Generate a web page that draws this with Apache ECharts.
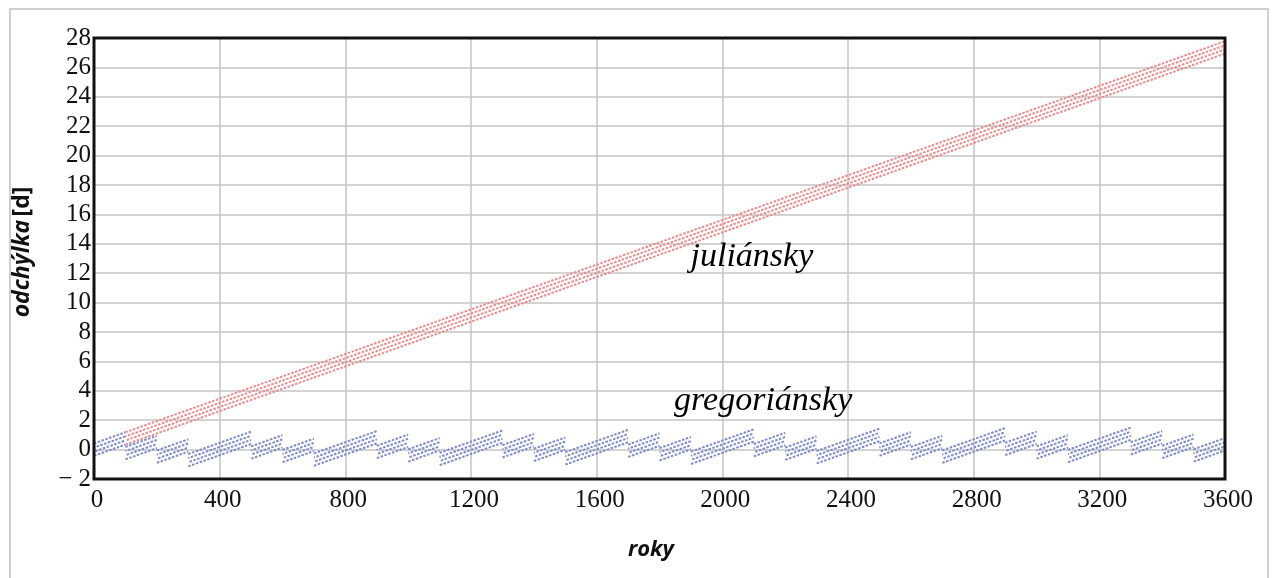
<!DOCTYPE html>
<html><head><meta charset="utf-8">
<script src="https://cdn.jsdelivr.net/npm/echarts@6/dist/echarts.min.js"></script>
<style>html,body{margin:0;padding:0;background:#fff}#c{width:1278px;height:578px}</style>
</head><body><div id="c"></div>
<script>
// ---- data ----
// Julian calendar drift (centre of the 4-year band), days
const julianTrend = [[100, 0.76], [3600, 27.36]];
// Gregorian drift: runs between century drops [startYear, endYear, startValue, endValue]
const gregSegments = [
  [0, 100, 0.00, 0.76], [100, 200, -0.24, 0.52], [200, 300, -0.48, 0.28],
  [300, 500, -0.72, 0.80], [500, 600, -0.20, 0.56], [600, 700, -0.44, 0.32],
  [700, 900, -0.68, 0.84], [900, 1000, -0.16, 0.60], [1000, 1100, -0.40, 0.36],
  [1100, 1300, -0.64, 0.88], [1300, 1400, -0.12, 0.64], [1400, 1500, -0.36, 0.40],
  [1500, 1700, -0.60, 0.92], [1700, 1800, -0.08, 0.68], [1800, 1900, -0.32, 0.44],
  [1900, 2100, -0.56, 0.96], [2100, 2200, -0.04, 0.72], [2200, 2300, -0.28, 0.48],
  [2300, 2500, -0.52, 1.00], [2500, 2600, 0.00, 0.76], [2600, 2700, -0.24, 0.52],
  [2700, 2900, -0.48, 1.04], [2900, 3000, 0.04, 0.80], [3000, 3100, -0.20, 0.56],
  [3100, 3300, -0.44, 1.08], [3300, 3400, 0.08, 0.84], [3400, 3500, -0.16, 0.60],
  [3500, 3600, -0.40, 0.36]
];
// offsets of the four years of the leap cycle around the band centre (days)
const cyclePhases = [0.42, 0.14, -0.14, -0.42];
const annotations = [['juliánsky', 2094, 13.1], ['gregoriánsky', 2130, 3.3]];
const xRange = [0, 3600, 400];
const yRange = [-2, 28, 2];
const axisTitles = { x: 'roky', y1: 'odchýlka', y2: '[d]' };

// ---- build ----
const gregBase = [];
gregSegments.forEach(s => { gregBase.push([s[0], s[2]], [s[1], s[3]], [s[1], '-']); });

const serif = '"Liberation Serif", "DejaVu Serif", serif';
const sans = '"Open Sans", sans-serif';
const RED = '#ef8a8a', BLUE = '#7c8ad0';
const series = [];
cyclePhases.forEach((off, i) => {
  series.push({
    type: 'line', showSymbol: false, silent: true, z: 2,
    data: julianTrend.map(p => [p[0], p[1] + off]),
    lineStyle: { color: RED, width: 2, type: [2.5, 1.5], dashOffset: i * 1.3 }
  });
});
cyclePhases.forEach((off, i) => {
  series.push({
    type: 'line', showSymbol: false, silent: true, z: 3, connectNulls: false,
    data: gregBase.map(p => [p[0], p[1] === '-' ? '-' : p[1] + off]),
    lineStyle: { color: BLUE, width: 2, type: [2.5, 1.5], dashOffset: i * 1.3 }
  });
});

const G = { left: 94, right: 53, top: 38, bottom: 99 };
const chart = echarts.init(document.getElementById('c'), null, { renderer: 'canvas' });
const graphics = [
  { type: 'rect', shape: { x: 10, y: 9, width: 1258, height: 600 }, style: { fill: null, stroke: '#cfcfcf', lineWidth: 2 }, z: -1 },
  { type: 'rect', shape: { x: G.left, y: G.top, width: 1278 - G.left - G.right, height: 578 - G.top - G.bottom },
    style: { fill: null, stroke: '#111', lineWidth: 3 }, z: 10 },
  { type: 'text', x: 651, y: 550, style: { text: axisTitles.x, fontFamily: sans, fontWeight: 'bold', fontStyle: 'italic', fontSize: 22, fill: '#111', align: 'center', verticalAlign: 'middle' } },
  { type: 'text', x: 22, y: 252, rotation: Math.PI / 2,
    style: { text: '{a|' + axisTitles.y1 + '} {b|' + axisTitles.y2 + '}', align: 'center', verticalAlign: 'middle',
      rich: { a: { fontFamily: sans, fontWeight: 'bold', fontStyle: 'italic', fontSize: 23, fill: '#111' },
              b: { fontFamily: sans, fontWeight: 'bold', fontSize: 23, fill: '#111' } } } }
];
const option = {
  animation: false,
  backgroundColor: '#fff',
  grid: { left: G.left, right: G.right, top: G.top, bottom: G.bottom, containLabel: false },
  xAxis: {
    type: 'value', min: xRange[0], max: xRange[1], interval: xRange[2],
    axisLine: { show: false }, axisTick: { show: false },
    splitLine: { lineStyle: { color: '#c4c4c4', width: 1.5 } },
    axisLabel: { fontFamily: serif, fontSize: 25, color: '#111', margin: 9, padding: [0, 0, 0, 6],
      formatter: v => String(v) }
  },
  yAxis: {
    type: 'value', min: yRange[0], max: yRange[1], interval: yRange[2],
    axisLine: { show: false }, axisTick: { show: false },
    splitLine: { lineStyle: { color: '#c4c4c4', width: 1.5 } },
    axisLabel: { fontFamily: serif, fontSize: 25, color: '#111', margin: 3, padding: [8, 0, 0, 0],
      formatter: v => v < 0 ? '\u2212 ' + Math.abs(v) : String(v) }
  },
  graphic: graphics,
  series: series
};
chart.setOption(option);
annotations.forEach(a => {
  const p = chart.convertToPixel({ gridIndex: 0 }, [a[1], a[2]]);
  graphics.push({ type: 'text', x: p[0], y: p[1], z: 12,
    style: { text: a[0], fontFamily: serif, fontStyle: 'italic', fontSize: 34, fill: '#000', align: 'center', verticalAlign: 'middle' } });
});
chart.setOption({ graphic: graphics });
</script></body></html>
